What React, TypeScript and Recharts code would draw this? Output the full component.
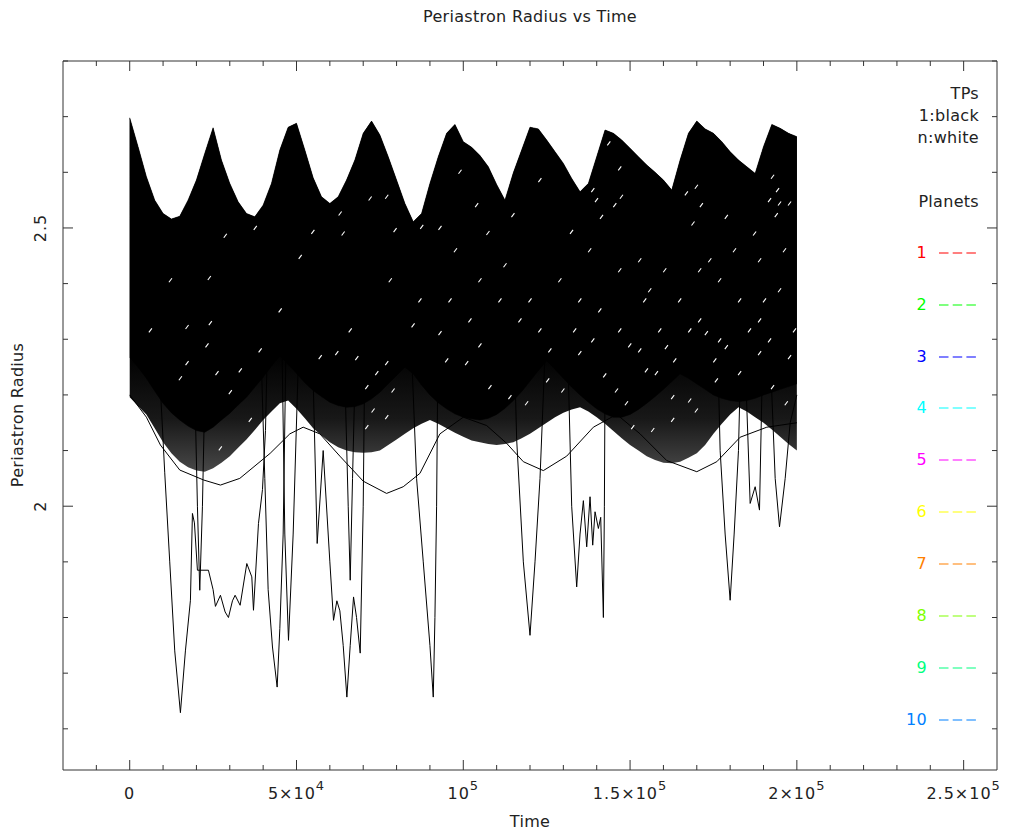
import React from 'react';
import { ComposedChart, Area, Line, Scatter, XAxis, YAxis } from 'recharts';

const FONT = '"DejaVu Sans", Verdana, sans-serif';
const INK = '#222';
const AXIS = '#333';

// Sample times (years) shared by the test-particle envelopes
const timeGrid = [
  0, 2500, 5000, 7500, 10000, 12500, 15000, 17500, 20000, 22500,
  25000, 27500, 30000, 32500, 35000, 37500, 40000, 42500, 45000, 47500,
  50000, 52500, 55000, 57500, 60000, 62500, 65000, 67500, 70000, 72500,
  75000, 77500, 80000, 82500, 85000, 87500, 90000, 92500, 95000, 97500,
  100000, 102500, 105000, 107500, 110000, 112500, 115000, 117500, 120000, 122500,
  125000, 127500, 130000, 132500, 135000, 137500, 140000, 142500, 145000, 147500,
  150000, 152500, 155000, 157500, 160000, 162500, 165000, 167500, 170000, 172500,
  175000, 177500, 180000, 182500, 185000, 187500, 190000, 192500, 195000, 197500,
  200000,
];

// Largest periastron radius reached by the swarm of test particles
const upperEdge = [
  2.698, 2.646, 2.592, 2.55, 2.526, 2.516, 2.521, 2.55, 2.586, 2.634,
  2.68, 2.622, 2.58, 2.547, 2.526, 2.52, 2.541, 2.58, 2.64, 2.681,
  2.688, 2.64, 2.59, 2.556, 2.544, 2.556, 2.586, 2.622, 2.67, 2.692,
  2.667, 2.628, 2.586, 2.544, 2.511, 2.526, 2.58, 2.628, 2.67, 2.686,
  2.655, 2.645, 2.63, 2.61, 2.578, 2.55, 2.599, 2.64, 2.681, 2.678,
  2.658, 2.637, 2.616, 2.589, 2.565, 2.58, 2.628, 2.676, 2.67, 2.658,
  2.643, 2.628, 2.613, 2.6, 2.586, 2.568, 2.622, 2.67, 2.692, 2.678,
  2.67, 2.655, 2.637, 2.622, 2.61, 2.598, 2.646, 2.686, 2.679, 2.67,
  2.664,
];

// Lower edge of the early (dark) test particles
const blackEdge = [
  2.268, 2.25, 2.23, 2.207, 2.185, 2.168, 2.155, 2.144, 2.136, 2.133,
  2.142, 2.155, 2.167, 2.182, 2.196, 2.214, 2.232, 2.252, 2.271, 2.255,
  2.239, 2.222, 2.208, 2.197, 2.187, 2.181, 2.178, 2.179, 2.184, 2.193,
  2.205, 2.22, 2.235, 2.25, 2.238, 2.218, 2.2, 2.186, 2.175, 2.166,
  2.16, 2.157, 2.155, 2.158, 2.165, 2.176, 2.19, 2.206, 2.225, 2.244,
  2.262, 2.246, 2.23, 2.214, 2.2, 2.187, 2.175, 2.166, 2.16, 2.16,
  2.165, 2.174, 2.185, 2.197, 2.21, 2.224, 2.238, 2.23, 2.22, 2.21,
  2.2, 2.194, 2.19, 2.188, 2.19, 2.194, 2.2, 2.205, 2.21, 2.215,
  2.22,
];

// Lower edge of the whole bundle (later, lighter particles)
const bandFloor = [
  2.196, 2.18, 2.165, 2.14, 2.115, 2.095, 2.08, 2.07, 2.064, 2.062,
  2.068, 2.078, 2.09, 2.105, 2.12, 2.137, 2.155, 2.17, 2.185, 2.19,
  2.175, 2.158, 2.14, 2.127, 2.115, 2.106, 2.1, 2.097, 2.096, 2.097,
  2.1, 2.11, 2.12, 2.13, 2.14, 2.148, 2.155, 2.148, 2.14, 2.132,
  2.125, 2.118, 2.115, 2.112, 2.11, 2.112, 2.115, 2.122, 2.13, 2.14,
  2.15, 2.16, 2.168, 2.174, 2.178, 2.17, 2.16, 2.148, 2.135, 2.122,
  2.11, 2.1, 2.09, 2.083, 2.078, 2.077, 2.08, 2.087, 2.095, 2.11,
  2.13, 2.148, 2.165, 2.178, 2.17, 2.16, 2.15, 2.138, 2.125, 2.112,
  2.1,
];

// Individual particles that leave the bundle: [time, periastron radius]
const strayTracks: [number, number][][] = [
  [[0, 2.2], [5000, 2.16], [9200, 2.11], [15000, 2.065], [22200, 2.047], [27200, 2.038], [33000, 2.05], [42100, 2.095], [48000, 2.13], [52000, 2.142], [57000, 2.13], [63000, 2.09], [70000, 2.045], [77000, 2.023], [82000, 2.035], [87000, 2.059], [93000, 2.13], [100000, 2.16], [107000, 2.145], [113000, 2.113], [118000, 2.08], [124000, 2.064], [131000, 2.09], [139000, 2.142], [146000, 2.165], [153000, 2.13], [161000, 2.082], [170000, 2.062], [176000, 2.08], [183000, 2.124], [191000, 2.142], [200000, 2.15]],
  [[8000, 2.35], [9300, 2.2], [10500, 2.06], [12000, 1.9], [13500, 1.74], [15200, 1.629], [16700, 1.74], [18200, 1.831], [18800, 1.987], [19400, 1.97], [20300, 1.885], [23600, 1.885], [25000, 1.85], [25700, 1.82], [27200, 1.84], [28600, 1.81], [29600, 1.8], [30800, 1.83], [31600, 1.84], [33100, 1.822], [35100, 1.897], [36600, 1.873], [37100, 1.813], [38600, 1.969], [39800, 2.03], [40700, 2.136], [41500, 2.35]],
  [[19000, 2.35], [20300, 2.0], [21000, 1.849], [21800, 2.0], [23000, 2.35]],
  [[39000, 2.35], [40500, 2.05], [41500, 1.85], [42800, 1.747], [44200, 1.675], [45000, 1.78], [46000, 1.95], [47000, 2.35]],
  [[45500, 2.35], [46500, 1.95], [47600, 1.759], [49000, 1.95], [51000, 2.35]],
  [[54500, 2.35], [56200, 1.933], [58000, 2.1], [60000, 1.9], [61100, 1.795], [62100, 1.83], [63000, 1.812], [64000, 1.75], [65100, 1.657], [66100, 1.75], [67100, 1.837], [68000, 1.8], [69100, 1.736], [70000, 2.0], [70600, 2.35]],
  [[64000, 2.35], [65500, 2.0], [66100, 1.867], [66800, 2.05], [68000, 2.35]],
  [[84000, 2.35], [86000, 2.05], [88000, 1.9], [90000, 1.75], [91000, 1.657], [91500, 1.8], [92000, 2.0], [92500, 2.35]],
  [[115000, 2.35], [116000, 2.12], [118000, 1.9], [120000, 1.768], [121500, 1.9], [123000, 2.05], [125000, 2.35]],
  [[131000, 2.35], [132500, 2.0], [134000, 1.855], [135000, 1.95], [136000, 2.01], [137000, 1.927], [138000, 2.017], [138800, 1.93], [139500, 1.99], [140500, 1.96], [141200, 1.98], [142000, 1.8], [142300, 2.0], [142600, 2.35]],
  [[176000, 2.35], [177000, 2.1], [178500, 1.95], [180000, 1.831], [181200, 1.95], [182500, 2.1], [183500, 2.35]],
  [[184000, 2.35], [186000, 2.005], [187500, 2.035], [188800, 1.993], [190000, 2.35]],
  [[191500, 2.35], [193500, 2.05], [194800, 1.963], [196500, 2.05], [198000, 2.15], [200000, 2.2]],
];

// Short-lived light (late-index) particles showing through the dark bundle
const lightTraces: [number, number][] = [
  [28650, 2.486], [23860, 2.41], [37630, 2.5], [51110, 2.448], [54910, 2.493], [63080, 2.526],
  [63980, 2.49], [72070, 2.553], [77060, 2.556], [79550, 2.496], [87540, 2.502], [93020, 2.5],
  [99010, 2.601], [104010, 2.541], [107390, 2.491], [114880, 2.523], [122960, 2.586], [132450, 2.493],
  [138830, 2.568], [139940, 2.55], [141440, 2.52], [145420, 2.541], [147420, 2.556], [143620, 2.652],
  [146910, 2.607], [166880, 2.562], [169880, 2.574], [171380, 2.541], [168860, 2.508], [178860, 2.52],
  [187330, 2.49], [192720, 2.592], [194220, 2.568], [194820, 2.544], [193830, 2.523], [197810, 2.544],
  [191820, 2.55], [95030, 2.262], [105000, 2.289], [107990, 2.214], [113980, 2.196], [118980, 2.185],
  [125960, 2.28], [129850, 2.208], [134940, 2.275], [138830, 2.298], [145930, 2.208], [148920, 2.185],
  [152900, 2.28], [154910, 2.244], [157900, 2.239], [160900, 2.286], [162780, 2.196], [167870, 2.19],
  [169880, 2.172], [172870, 2.311], [175870, 2.226], [178860, 2.286], [182840, 2.239], [188830, 2.275],
  [192720, 2.214], [196830, 2.185], [197810, 2.268], [156800, 2.137], [162780, 2.155], [150810, 2.142],
  [17190, 2.322], [24160, 2.329], [23170, 2.289], [17190, 2.257], [26170, 2.239], [15180, 2.23],
  [33140, 2.244], [30150, 2.205], [57100, 2.268], [62090, 2.275], [68080, 2.266], [71080, 2.214],
  [77060, 2.257], [74070, 2.239], [78950, 2.208], [84940, 2.325], [93020, 2.311], [101020, 2.257],
  [27160, 2.104], [36140, 2.155], [72960, 2.172], [77060, 2.16], [71080, 2.142], [110990, 2.37],
  [116980, 2.334], [128950, 2.406], [140930, 2.352], [146910, 2.316], [155900, 2.388], [164880, 2.37],
  [170870, 2.334], [176850, 2.406], [182840, 2.37], [188830, 2.334], [194820, 2.388], [152900, 2.442],
  [170870, 2.424], [188830, 2.442], [122960, 2.316], [134940, 2.37], [105000, 2.406], [96020, 2.37],
  [146910, 2.424], [158890, 2.316], [176850, 2.298], [191820, 2.298],
  [97650, 2.46], [102000, 2.334], [112500, 2.433], [120000, 2.37], [125300, 2.226], [133400, 2.316],
  [137900, 2.46], [142400, 2.235], [149900, 2.289], [154400, 2.37], [160400, 2.424], [163400, 2.262],
  [167900, 2.316], [173900, 2.442], [175400, 2.262], [181300, 2.46], [185800, 2.316], [190300, 2.37],
  [196300, 2.46], [199300, 2.316], [87000, 2.37], [78100, 2.406], [66100, 2.316], [45100, 2.352],
  [39100, 2.28], [6200, 2.316], [12200, 2.406],
];

const timeTicks = [
  -10000, 0, 10000, 20000, 30000, 40000, 50000, 60000, 70000, 80000, 90000,
  100000, 110000, 120000, 130000, 140000, 150000, 160000, 170000, 180000,
  190000, 200000, 210000, 220000, 230000, 240000, 250000,
];
const timeTickLabels = [
  { value: 0, base: '0', exp: '' },
  { value: 50000, base: '5×10', exp: '4' },
  { value: 100000, base: '10', exp: '5' },
  { value: 150000, base: '1.5×10', exp: '5' },
  { value: 200000, base: '2×10', exp: '5' },
  { value: 250000, base: '2.5×10', exp: '5' },
];
const radiusTicks = [1.6, 1.7, 1.8, 1.9, 2, 2.1, 2.2, 2.3, 2.4, 2.5, 2.6, 2.7, 2.8];
const radiusTickLabels = [
  { value: 2, text: '2' },
  { value: 2.5, text: '2.5' },
];

const tpLegend = ['TPs', '1:black', 'n:white'];
const planetLabels = ['1', '2', '3', '4', '5', '6', '7', '8', '9', '10'];
const planetColors = [
  '#ff0000', '#00ff00', '#0000ff', '#00ffff', '#ff00ff',
  '#ffff00', '#ff8000', '#80ff00', '#00ff80', '#0080ff',
];

const bundleRows = timeGrid.map((t, i) => ({
  t,
  dark: [blackEdge[i], upperEdge[i]],
  whole: [bandFloor[i], upperEdge[i]],
}));

const trackRows = strayTracks.map((pts) => pts.map(([t, r]) => ({ t, r })));
const traceRows = lightTraces.map(([t, r]) => ({ t, r }));

const near = (a: number, b: number) => Math.abs(a - b) < 1e-6;

function BottomTick(props: any) {
  const { x, y, payload } = props;
  const lab = timeTickLabels.find((l) => near(l.value, payload.value));
  return (
    <g>
      <line x1={x} x2={x} y1={y} y2={y - (lab ? 10 : 5)} stroke={AXIS} strokeWidth={1} />
      {lab && (
        <text x={x} y={y + 29} textAnchor="middle" fontFamily={FONT} fontSize={16} fill={INK} letterSpacing={1}>
          {lab.base}
          {lab.exp && (
            <tspan dy={-9} fontSize={13}>
              {lab.exp}
            </tspan>
          )}
        </text>
      )}
    </g>
  );
}

function TopTick(props: any) {
  const { x, y, payload } = props;
  const major = timeTickLabels.some((l) => near(l.value, payload.value));
  return <line x1={x} x2={x} y1={y} y2={y + (major ? 10 : 5)} stroke={AXIS} strokeWidth={1} />;
}

function LeftTick(props: any) {
  const { x, y, payload } = props;
  const lab = radiusTickLabels.find((l) => near(l.value, payload.value));
  const lx = x - 22;
  return (
    <g>
      <line x1={x} x2={x + (lab ? 10 : 5)} y1={y} y2={y} stroke={AXIS} strokeWidth={1} />
      {lab && (
        <text
          x={lx}
          y={y}
          transform={`rotate(-90 ${lx} ${y})`}
          textAnchor="middle"
          dominantBaseline="central"
          fontFamily={FONT}
          fontSize={16}
          fill={INK}
          letterSpacing={1}
        >
          {lab.text}
        </text>
      )}
    </g>
  );
}

function RightTick(props: any) {
  const { x, y, payload } = props;
  const major = radiusTickLabels.some((l) => near(l.value, payload.value));
  return <line x1={x} x2={x - (major ? 10 : 5)} y1={y} y2={y} stroke={AXIS} strokeWidth={1} />;
}

function TraceDash(props: any) {
  const { cx, cy } = props;
  if (cx == null || cy == null) return null;
  return <line x1={cx - 1.5} y1={cy + 2} x2={cx + 1.5} y2={cy - 2} stroke="#fff" strokeWidth={1.1} />;
}

const textStyle: React.CSSProperties = {
  position: 'absolute',
  fontFamily: FONT,
  fontSize: 16,
  color: INK,
  lineHeight: '16px',
  whiteSpace: 'nowrap',
  letterSpacing: 0.3,
};

export default function App() {
  return (
    <div style={{ position: 'absolute', left: 0, top: 0, width: 1011, height: 832, background: '#fff' }}>
      <ComposedChart
        width={1011}
        height={832}
        data={bundleRows}
        margin={{ top: 60, right: 13, bottom: 61, left: 62 }}
      >
        <defs>
          <linearGradient id="lateParticles" x1="0" y1="0" x2="0" y2="1">
            <stop offset="0" stopColor="#000" />
            <stop offset="0.66" stopColor="#000" />
            <stop offset="0.85" stopColor="#181818" />
            <stop offset="1" stopColor="#484848" />
          </linearGradient>
        </defs>
        <XAxis
          dataKey="t"
          type="number"
          domain={[-20000, 260000]}
          allowDataOverflow
          ticks={timeTicks}
          interval={0}
          height={1}
          tickSize={0}
          tickMargin={0}
          tickLine={false}
          axisLine={{ stroke: AXIS }}
          tick={<BottomTick />}
        />
        <XAxis
          xAxisId="top"
          orientation="top"
          dataKey="t"
          type="number"
          domain={[-20000, 260000]}
          allowDataOverflow
          ticks={timeTicks}
          interval={0}
          height={1}
          tickSize={0}
          tickMargin={0}
          tickLine={false}
          axisLine={{ stroke: AXIS }}
          tick={<TopTick />}
        />
        <YAxis
          type="number"
          domain={[1.526, 2.8]}
          allowDataOverflow
          ticks={radiusTicks}
          interval={0}
          width={1}
          tickSize={0}
          tickMargin={0}
          tickLine={false}
          axisLine={{ stroke: AXIS }}
          tick={<LeftTick />}
        />
        <YAxis
          yAxisId="right"
          orientation="right"
          type="number"
          domain={[1.526, 2.8]}
          allowDataOverflow
          ticks={radiusTicks}
          interval={0}
          width={1}
          tickSize={0}
          tickMargin={0}
          tickLine={false}
          axisLine={{ stroke: AXIS }}
          tick={<RightTick />}
        />
        <Area
          dataKey="whole"
          type="linear"
          stroke="none"
          fill="url(#lateParticles)"
          fillOpacity={1}
          isAnimationActive={false}
          dot={false}
          activeDot={false}
        />
        <Area
          dataKey="dark"
          type="linear"
          stroke="#000"
          strokeWidth={0.6}
          fill="#000"
          fillOpacity={1}
          isAnimationActive={false}
          dot={false}
          activeDot={false}
        />
        {trackRows.map((rows, i) => (
          <Line
            key={i}
            data={rows}
            dataKey="r"
            type="linear"
            stroke="#000"
            strokeWidth={1}
            dot={false}
            activeDot={false}
            isAnimationActive={false}
          />
        ))}
        <Scatter data={traceRows} dataKey="r" shape={<TraceDash />} isAnimationActive={false} />
      </ComposedChart>

      <div style={{ ...textStyle, left: 0, width: 1060, top: 9, textAlign: 'center' }}>Periastron Radius vs Time</div>
      <div style={{ ...textStyle, left: 0, width: 1060, top: 814, textAlign: 'center' }}>Time</div>
      <div
        style={{
          ...textStyle,
          left: 18,
          top: 415,
          transform: 'translate(-50%, -50%) rotate(-90deg)',
        }}
      >
        Periastron Radius
      </div>

      {tpLegend.map((s, i) => (
        <div key={s} style={{ ...textStyle, right: 32, top: 94 + i * 22 - 8, textAlign: 'right' }}>
          {s}
        </div>
      ))}
      <div style={{ ...textStyle, right: 32, top: 202 - 8, textAlign: 'right' }}>Planets</div>
      {planetLabels.map((s, i) => {
        const cy = 252.7 + i * 51.9;
        return (
          <React.Fragment key={s}>
            <div style={{ ...textStyle, right: 1011 - 927, top: cy - 8, color: planetColors[i], textAlign: 'right' }}>{s}</div>
            <svg style={{ position: 'absolute', left: 939, top: cy - 2 }} width={40} height={4}>
              <line x1={0} x2={39} y1={2} y2={2} stroke={planetColors[i]} strokeWidth={1.2} strokeDasharray="9.5 4.2" />
            </svg>
          </React.Fragment>
        );
      })}
    </div>
  );
}
